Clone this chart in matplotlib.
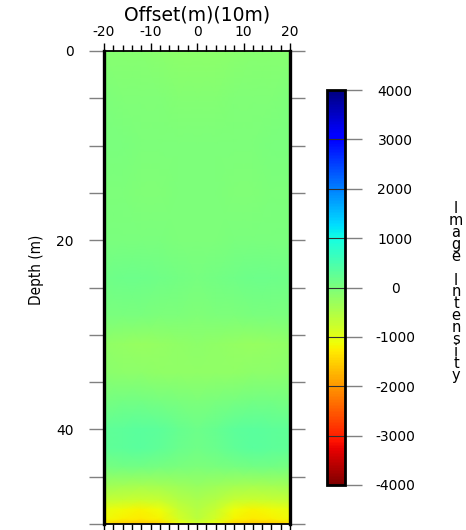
import numpy as np
import matplotlib
matplotlib.use("Agg")
import matplotlib.pyplot as plt
from matplotlib.ticker import MultipleLocator, FixedLocator, FuncFormatter

# ---------------- data ----------------
offset_nodes = [-20, -16, -12, -8, -4, 0, 4, 8, 12, 16, 20]
depth_nodes = [0, 5, 10, 15, 20, 24, 28, 31, 34, 37, 40, 42, 44, 46, 47.5, 48.5, 49.5, 50]
intensity_rows = [
    [-100, -100, -120, -150, -170, -180, -170, -150, -120, -100, -100],
    [-30, -40, -50, -60, -70, -80, -70, -60, -50, -40, -30],
    [0, 0, -10, -20, -30, -30, -30, -20, -10, 0, 0],
    [-20, -30, -40, -40, -30, -30, -30, -40, -40, -30, -20],
    [20, 20, 10, 0, -10, -20, -10, 0, 10, 20, 20],
    [120, 140, 140, 110, 80, 60, 80, 110, 140, 140, 120],
    [30, 20, 0, -20, -30, -40, -30, -20, 0, 20, 30],
    [-200, -240, -260, -240, -200, -180, -200, -240, -260, -240, -200],
    [-150, -170, -180, -190, -200, -210, -200, -190, -180, -170, -150],
    [50, 80, 90, 50, 0, -30, 0, 50, 90, 80, 50],
    [260, 310, 330, 290, 190, 150, 190, 290, 330, 310, 260],
    [250, 300, 320, 270, 170, 120, 170, 270, 320, 300, 250],
    [50, 80, 90, 60, 0, -30, 0, 60, 90, 80, 50],
    [-350, -400, -420, -400, -320, -280, -320, -400, -420, -400, -350],
    [-700, -750, -780, -720, -550, -450, -550, -720, -780, -750, -700],
    [-1050, -1150, -1200, -1100, -750, -550, -750, -1100, -1200, -1150, -1050],
    [-1150, -1250, -1300, -1200, -850, -600, -850, -1200, -1300, -1250, -1150],
    [-1500, -1600, -1650, -1550, -1100, -800, -1100, -1550, -1650, -1600, -1500],
]
x_ticklabels = ["-20", "-10", "0", "10", "20"]
y_ticklabels = ["0", "20", "40"]
cbar_ticks = [-4000, -3000, -2000, -1000, 0, 1000, 2000, 3000, 4000]
title = "Offset(m)(10m)"
ylabel = "Depth (m)"
cbar_label = "Image Intensity"

# ---------------- figure ----------------
plt.rcParams['font.family'] = ['DejaVu Sans']
plt.rcParams['axes.unicode_minus'] = False
W, H = 466, 530
fig = plt.figure(figsize=(W / 100, H / 100), dpi=100)

def rect(x0, y0, x1, y1):
    return [x0 / W, 1 - y1 / H, (x1 - x0) / W, (y1 - y0) / H]

ax = fig.add_axes(rect(104, 51, 290, 524))
X, Y = np.meshgrid(offset_nodes, depth_nodes)
Z = np.array(intensity_rows, dtype=float)
mesh = ax.pcolormesh(X, Y, Z, cmap='jet_r', vmin=-4000, vmax=4000, shading='gouraud')
ax.set_xlim(-20, 20)
ax.set_ylim(50, 0)

# x axis ticks top & bottom
ax.xaxis.set_major_locator(FixedLocator([-20, -10, 0, 10, 20]))
ax.xaxis.set_minor_locator(MultipleLocator(2))
ax.xaxis.set_major_formatter(FuncFormatter(lambda v, p: x_ticklabels[p] if p is not None and p < len(x_ticklabels) else ""))
ax.tick_params(axis='x', which='both', top=True, bottom=True, labeltop=True, labelbottom=False,
               direction='out', color='black', width=1.0)
ax.tick_params(axis='x', which='major', length=6, labelsize=10, pad=3)
ax.tick_params(axis='x', which='minor', length=4)

# y axis ticks left & right
ax.yaxis.set_major_locator(FixedLocator([0, 20, 40]))
ax.yaxis.set_minor_locator(MultipleLocator(5))
ax.yaxis.set_major_formatter(FuncFormatter(lambda v, p: y_ticklabels[p] if p is not None and p < len(y_ticklabels) else ""))
ax.tick_params(axis='y', which='both', left=True, right=True, labelleft=True, labelright=False,
               direction='out', color='#808080', width=1.0, length=11)
ax.tick_params(axis='y', which='major', labelsize=10, pad=11)

for s in ['left', 'right']:
    ax.spines[s].set_linewidth(2.4)
for s in ['top', 'bottom']:
    ax.spines[s].set_linewidth(1.3)

fig.text(197 / W, 1 - 15 / H, title, ha='center', va='center', fontsize=13.5)
fig.text(36 / W, 1 - 270 / H, ylabel, ha='center', va='center', rotation=90, fontsize=11,
         family=['Liberation Sans Narrow', 'DejaVu Sans'], fontstretch='condensed')

# colorbar
cax = fig.add_axes(rect(327, 90, 345, 485))
cb = fig.colorbar(mesh, cax=cax, ticks=cbar_ticks)
cb.outline.set_linewidth(2.0)
cax.tick_params(axis='y', direction='out', length=12, color='#808080', width=1.0,
                labelsize=10, pad=24)
for lbl in cax.get_yticklabels():
    lbl.set_horizontalalignment('center')
for t in cbar_ticks[1:-1]:
    cax.axhline(t, color='#303030', lw=0.8)

fig.text(456 / W, 1 - 292 / H, "\n".join(list(cbar_label)), ha='center', va='center',
         fontsize=10.5, linespacing=0.74)

fig.savefig("out.png", dpi=100)
